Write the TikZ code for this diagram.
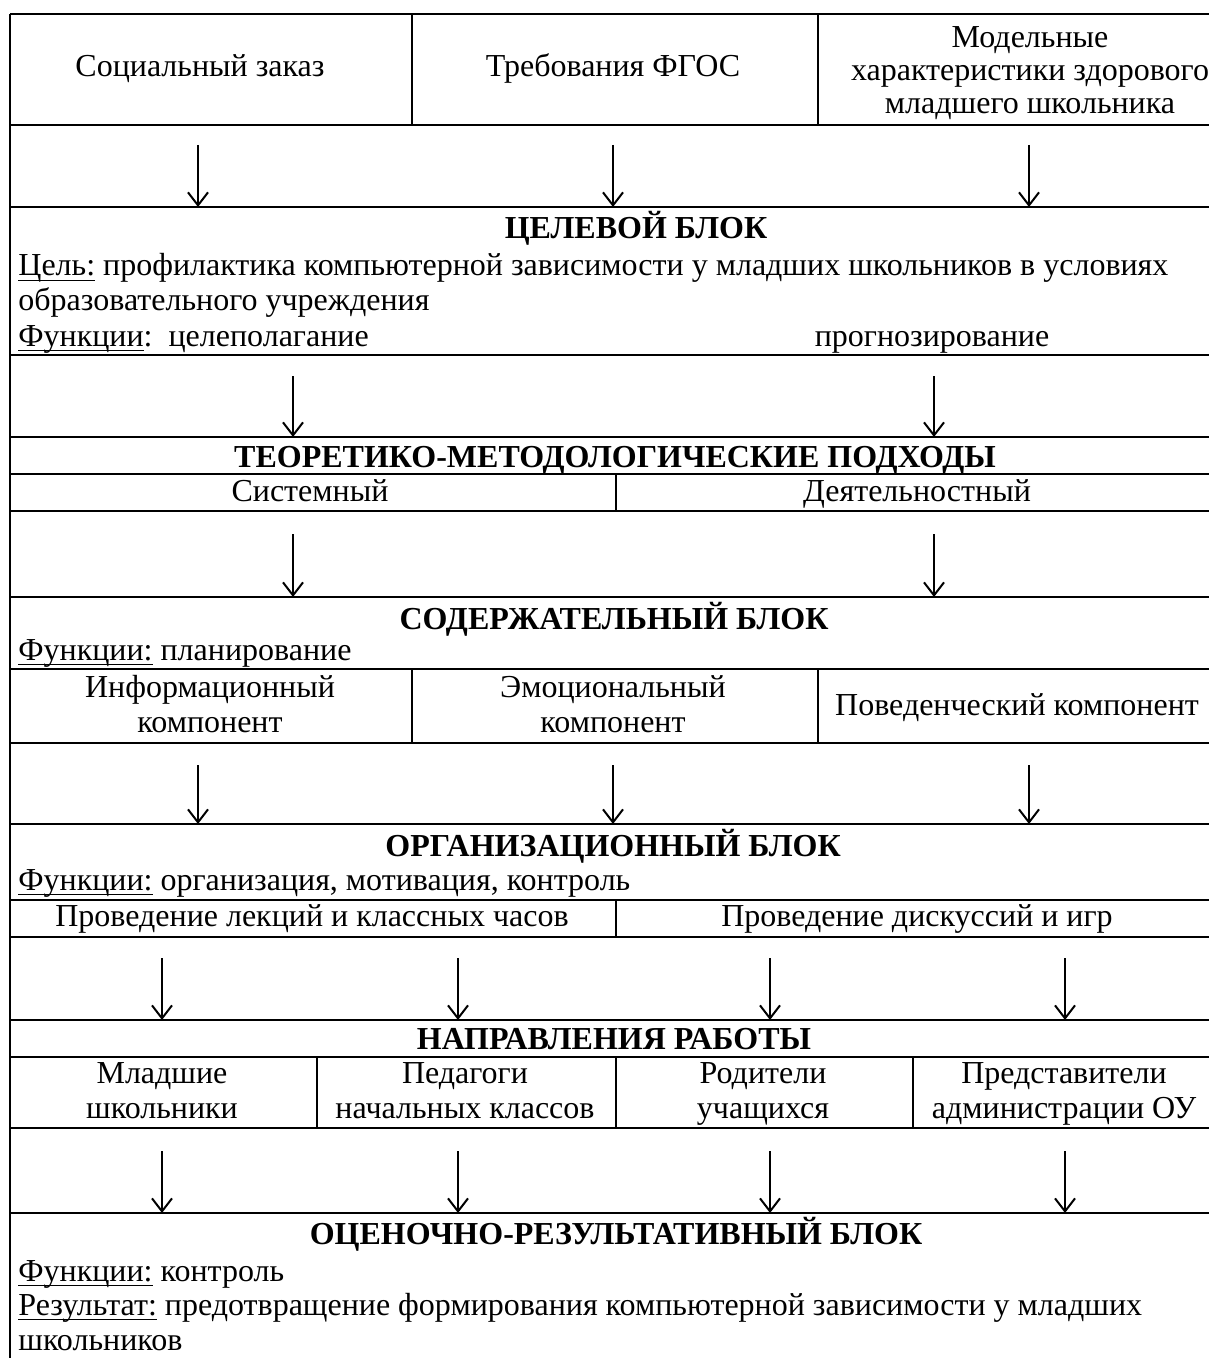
\documentclass[tikz,border=0pt]{standalone}
\usepackage{fontspec}
\setmainfont{Liberation Serif}
\usetikzlibrary{arrows.meta}

% underline a bit heavier than \underline
\newcommand{\ulx}[1]{\setbox0\hbox{#1}\rlap{\rule[-2.6pt]{\wd0}{0.8pt}}\box0\relax}

\begin{document}
\begin{tikzpicture}[
    x=0.5pt, y=-0.5pt,
    ml/.style={inner sep=0pt, align=center, font=\fontsize{16}{16.4}\selectfont,
      execute at begin node=\strut, execute at end node=\strut},
    mlw/.style={ml, font=\fontsize{16}{17.4}\selectfont},
    txt/.style={inner sep=0pt, align=center, text height=11pt, text depth=4pt,
      font=\fontsize{16}{16.4}\selectfont},
    head/.style={txt, font=\fontsize{16}{16.4}\selectfont\bfseries},
    lft/.style={txt, anchor=west, align=left},
    hline/.style={line width=1.1pt},
    vline/.style={line width=0.6pt},
    arr/.style={line width=1pt, -{Straight Barb[length=6.5pt,width=10pt,line width=1pt]}}
]
% 1 unit = 1 px of the 1209x1358 page, y goes down
\useasboundingbox (0,0) rectangle (1209,1358);

% Horizontal rules of the table, named by their row
\foreach \name/\y in {top/14, r1/125, goal/207, goalb/355, theo/437, theob/474,
    theoc/511, cont/597, contb/669, contc/743, org/824, orgb/900, orgc/937,
    dir/1020, dirb/1057, dirc/1128, eval/1213} {
  \coordinate (\name) at (10,\y);
  \draw[hline] (10,\y) -- (1209,\y);
}
\draw[hline] (10,14) -- (10,1358);  % left border

% Vertical dividers
\foreach \x in {412, 818} \draw[vline] (\x,14) -- (\x,125);
\draw[vline] (616,474) -- (616,511);
\foreach \x in {412, 818} \draw[vline] (\x,669) -- (\x,743);
\draw[vline] (616,900) -- (616,937);
\foreach \x in {317, 616, 913} \draw[vline] (\x,1057) -- (\x,1128);

% Row 1: sources
\node[txt] (soc)   at (200,70)  {Социальный заказ};
\node[txt] (fgos)  at (613,70)  {Требования ФГОС};
\node[ml]  (model) at (1030,75) {Модельные\\характеристики здорового\\младшего школьника};

% Goal block
\node[head] (goalh) at (636,232) {ЦЕЛЕВОЙ БЛОК};
\node[lft] (aim)    at (18,269) {\ulx{Цель:} профилактика компьютерной зависимости у младших школьников в условиях};
\node[lft] (aim2)   at (18,304) {образовательного учреждения};
\node[lft] (gfun)   at (18,339) {\ulx{Функции}:\ \ целеполагание};
\node[txt] (gfun2)  at (932,339) {прогнозирование};

% Approaches
\node[head] (theoh) at (615,460) {ТЕОРЕТИКО-МЕТОДОЛОГИЧЕСКИЕ ПОДХОДЫ};
\node[txt] (sys)    at (310,494) {Системный};
\node[txt] (act)    at (917,494) {Деятельностный};

% Content block
\node[head] (conth) at (614,622) {СОДЕРЖАТЕЛЬНЫЙ БЛОК};
\node[lft] (cfun)   at (18,653) {\ulx{Функции:} планирование};
\node[mlw] (info)   at (210,709) {Информационный\\компонент};
\node[mlw] (emo)    at (613,709) {Эмоциональный\\компонент};
\node[txt] (beh)    at (1017,708) {Поведенческий компонент};

% Organisation block
\node[head] (orgh)  at (613,849) {ОРГАНИЗАЦИОННЫЙ БЛОК};
\node[lft] (ofun)   at (18,883) {\ulx{Функции:} организация, мотивация, контроль};
\node[txt] (lect)   at (312,919) {Проведение лекций и классных часов};
\node[txt] (disc)   at (917,919) {Проведение дискуссий и игр};

% Directions of work
\node[head] (dirh)  at (614,1042) {НАПРАВЛЕНИЯ РАБОТЫ};
\node[mlw] (pup)    at (162,1096) {Младшие\\школьники};
\node[mlw] (teach)  at (465,1096) {Педагоги\\начальных классов};
\node[mlw] (par)    at (763,1096) {Родители\\учащихся};
\node[mlw] (adm)    at (1064,1096) {Представители\\администрации ОУ};

% Evaluation block
\node[head] (evalh) at (616,1237) {ОЦЕНОЧНО-РЕЗУЛЬТАТИВНЫЙ БЛОК};
\node[lft] (efun)   at (18,1274) {\ulx{Функции:} контроль};
\node[lft] (res)    at (18,1308) {\ulx{Результат:} предотвращение формирования компьютерной зависимости у младших};
\node[lft] (res2)   at (18,1343) {школьников};

% Arrows between the blocks
\foreach \i/\x in {1/198, 2/613, 3/1029} {
  \coordinate (a\i) at (\x,145);
  \draw[arr] (a\i) -- (a\i |- goal);
  \coordinate (c\i) at (\x,765);
  \draw[arr] (c\i) -- (c\i |- org);
}
\foreach \i/\x in {1/293, 2/934} {
  \coordinate (b\i) at (\x,376);
  \draw[arr] (b\i) -- (b\i |- theo);
  \coordinate (t\i) at (\x,534);
  \draw[arr] (t\i) -- (t\i |- cont);
}
\foreach \i/\x in {1/162, 2/458, 3/770, 4/1065} {
  \coordinate (o\i) at (\x,958);
  \draw[arr] (o\i) -- (o\i |- dir);
  \coordinate (d\i) at (\x,1151);
  \draw[arr] (d\i) -- (d\i |- eval);
}
\end{tikzpicture}
\end{document}
